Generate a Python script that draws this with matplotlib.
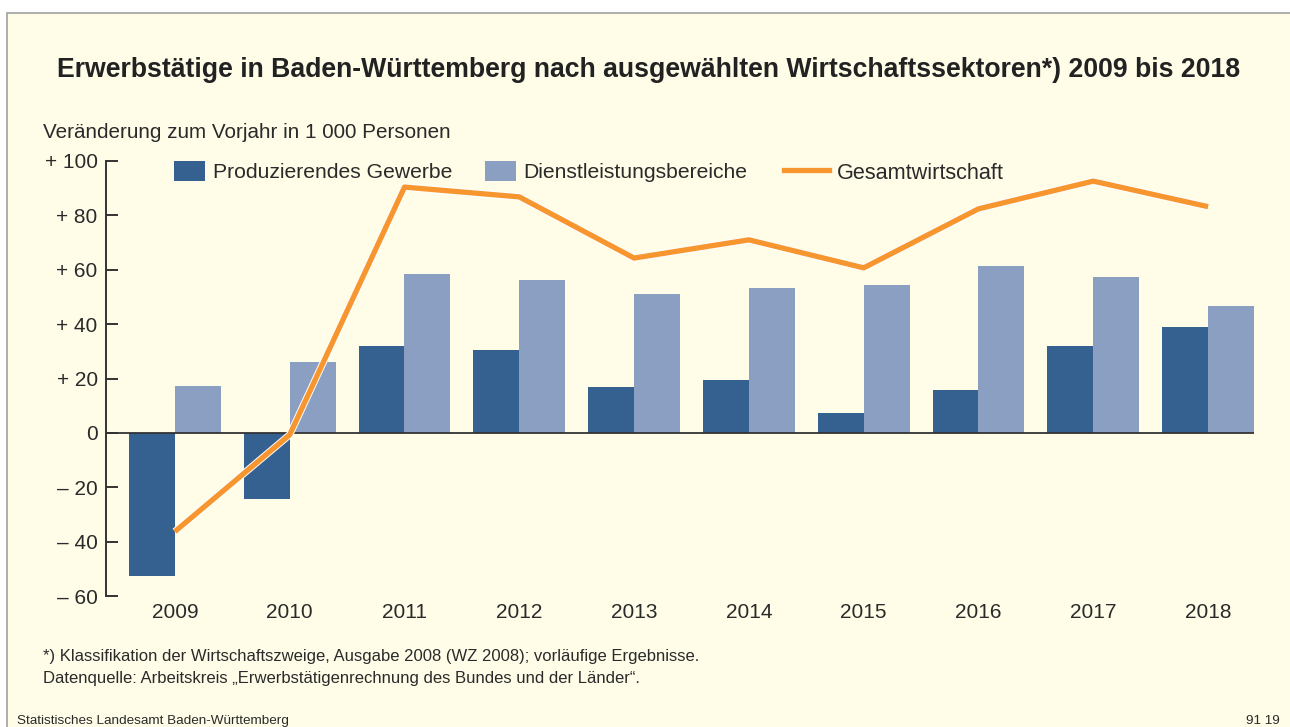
import matplotlib
matplotlib.use("Agg")
import matplotlib.pyplot as plt
import matplotlib.patheffects as pe
from matplotlib.patches import Patch, Rectangle
from matplotlib.lines import Line2D
import numpy as np

plt.rcParams['font.family'] = ['Liberation Sans', 'DejaVu Sans']

years = ["2009", "2010", "2011", "2012", "2013", "2014", "2015", "2016", "2017", "2018"]
produzierendes = [-52.5, -24.5, 32.0, 30.5, 16.9, 19.5, 7.4, 15.8, 32.0, 39.0]
dienstleistung = [17.3, 26.1, 58.5, 56.2, 51.1, 53.3, 54.4, 61.4, 57.4, 46.7]
gesamt = [-36.3, -0.7, 90.4, 86.8, 64.3, 71.0, 60.7, 82.4, 92.6, 83.2]
yticks = [100, 80, 60, 40, 20, 0, -20, -40, -60]
ytick_labels = ["+ 100", "+ 80", "+ 60", "+ 40", "+ 20", "0", "– 20", "– 40", "– 60"]

BG = "#fffde8"
DARK = "#356191"
LIGHT = "#8a9fc1"
ORANGE = "#f7952f"
TXT = "#2a2a2a"

W, H = 1290, 727
fig = plt.figure(figsize=(W / 100, H / 100), dpi=100, facecolor="white")

# framed yellow panel
fig.patches.append(Rectangle((7 / W, -0.1), 1.2, 1.1 - 13 / H, transform=fig.transFigure,
                             facecolor=BG, edgecolor="#a0a0a0", linewidth=1.2, zorder=-10))

ax = fig.add_axes([106 / W, 1 - 596 / H, (1254 - 106) / W, (596 - 161) / H])
ax.set_facecolor("none")
ax.set_zorder(5)

x = np.arange(len(years))
bw = 0.4
ax.bar(x - bw / 2, produzierendes, width=bw, color=DARK, zorder=2)
ax.bar(x + bw / 2, dienstleistung, width=bw, color=LIGHT, zorder=2)
ax.plot(x, gesamt, color=ORANGE, linewidth=3.8, zorder=4, solid_capstyle="butt",
        path_effects=[pe.Stroke(linewidth=5.2, foreground="white"), pe.Normal()])
ax.axhline(0, color="#333333", linewidth=1.3, zorder=3)

ax.set_xlim(-0.6, 9.4)
ax.set_ylim(-60, 100)
for s in ["top", "right", "bottom"]:
    ax.spines[s].set_visible(False)
ax.spines["left"].set_color("#333333")
ax.spines["left"].set_linewidth(1.4)
ax.set_yticks(yticks)
ax.set_yticklabels(ytick_labels)
ax.tick_params(axis="y", direction="in", length=8.5, width=1.4, color="#333333",
               labelsize=15, labelcolor=TXT, pad=6)
ax.set_xticks(x)
ax.set_xticklabels(years)
ax.tick_params(axis="x", length=0, labelsize=15, labelcolor=TXT, pad=5)

LFS1 = 15.2
LFS2 = 15.6
leg1 = ax.legend([Patch(facecolor=DARK, edgecolor="none"),
                  Patch(facecolor=LIGHT, edgecolor="none")],
                 ["Produzierendes Gewerbe", "Dienstleistungsbereiche"],
                 ncol=2, frameon=False, fontsize=LFS1,
                 loc="upper left", bbox_to_anchor=(0.0427, 1.044),
                 handlelength=1.47, handleheight=1.12, handletextpad=0.38,
                 columnspacing=1.52, labelcolor=TXT, borderpad=0.4)
ax.add_artist(leg1)
leg2 = ax.legend([Line2D([0], [0], color=ORANGE, linewidth=3.8)],
                 ["Gesamtwirtschaft"],
                 frameon=False, fontsize=LFS2,
                 loc="upper left", bbox_to_anchor=(0.5739, 1.044),
                 handlelength=2.07, handleheight=1.1, handletextpad=0.37,
                 labelcolor=TXT, borderpad=0.4)

fig.text(57 / W, 1 - 70 / H,
         "Erwerbstätige in Baden-Württemberg nach ausgewählten Wirtschaftssektoren*) 2009 bis 2018",
         fontsize=19.2, fontweight="bold", color="#222222", va="center", ha="left")
fig.text(43 / W, 1 - 133 / H, "Veränderung zum Vorjahr in 1 000 Personen",
         fontsize=14.9, color=TXT, va="center", ha="left")
fig.text(43 / W, 1 - 656 / H,
         "*) Klassifikation der Wirtschaftszweige, Ausgabe 2008 (WZ 2008); vorläufige Ergebnisse.",
         fontsize=12, color=TXT, va="center", ha="left")
fig.text(43 / W, 1 - 679 / H,
         "Datenquelle: Arbeitskreis „Erwerbstätigenrechnung des Bundes und der Länder“.",
         fontsize=12, color=TXT, va="center", ha="left")
fig.text(17 / W, 1 - 721 / H, "Statistisches Landesamt Baden-Württemberg",
         fontsize=9.7, color=TXT, va="center", ha="left")
fig.text(1280 / W, 1 - 721 / H, "91 19",
         fontsize=9.7, color=TXT, va="center", ha="right")

fig.savefig("out.png", dpi=100, facecolor="white")
